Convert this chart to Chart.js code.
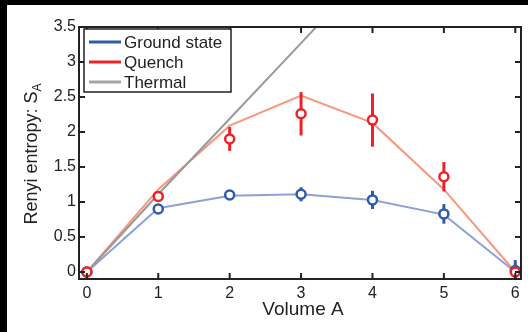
<!DOCTYPE html>
<html>
<head>
<meta charset="utf-8">
<script src="https://cdn.jsdelivr.net/npm/chart.js@4"></script>
<style>
  html, body { margin: 0; padding: 0; background: #000; }
  #wrap { position: absolute; left: 7px; top: 5px; width: 521px; height: 327px; background: #fff; }
</style>
</head>
<body>
<div id="wrap"><canvas id="renyiChart" width="521" height="327"></canvas></div>
<script>
// Renyi entropy vs subsystem volume

const volumes = [0, 1, 2, 3, 4, 5, 6];
const xTickValues = [0, 1, 2, 3, 4, 5, 6];
const yTickValues = [0, 0.5, 1, 1.5, 2, 2.5, 3, 3.5];

const groundMeasured = [0, 0.9, 1.1, 1.11, 1.03, 0.83, 0.02];
const groundError = [0.03, 0.04, 0.06, 0.1, 0.13, 0.14, 0.15];
const groundTheory = [0, 0.91, 1.09, 1.11, 1.03, 0.82, 0];

const quenchMeasured = [0, 1.08, 1.9, 2.26, 2.17, 1.36, 0];
const quenchError = [0.02, 0.03, 0.17, 0.31, 0.38, 0.21, 0.03];
const quenchTheory = [0, 1.18, 2.09, 2.52, 2.13, 1.18, 0];

const thermalVolumes = [0, 1, 2, 3, 4];
const thermalTheory = [0, 1.11, 2.19, 3.27, 4.36];

const legendItems = [
    { label: 'Ground state', color: '#2d5ca8' },
    { label: 'Quench', color: '#ec2228' },
    { label: 'Thermal', color: '#a6a6a6' }
];

const toPoints = (xs, ys) => xs.map((x, i) => ({ x: x, y: ys[i] }));

const FONT = '"Liberation Sans", Arial, Helvetica, sans-serif';

// error bars, frame with inward ticks, legend box and axis titles
const decorPlugin = {
    id: 'decor',
    beforeDatasetDraw(chart, args) {
        const ds = chart.data.datasets[args.index];
        if (!ds.errors) return;
        const ctx = chart.ctx;
        const xs = chart.scales.x, ys = chart.scales.y;
        ctx.save();
        ctx.beginPath();
        ctx.rect(chart.chartArea.left, chart.chartArea.top,
                 chart.chartArea.right - chart.chartArea.left,
                 chart.chartArea.bottom - chart.chartArea.top);
        ctx.clip();
        ctx.strokeStyle = ds.borderColor;
        ctx.lineWidth = 3;
        ds.data.forEach((p, i) => {
            const px = xs.getPixelForValue(p.x);
            ctx.beginPath();
            ctx.moveTo(px, ys.getPixelForValue(p.y - ds.errors[i]));
            ctx.lineTo(px, ys.getPixelForValue(p.y + ds.errors[i]));
            ctx.stroke();
        });
        ctx.restore();
    },
    afterDraw(chart) {
        const ctx = chart.ctx;
        const { left, right, top, bottom } = chart.chartArea;
        const xs = chart.scales.x, ys = chart.scales.y;
        const tick = 6;

        ctx.save();
        ctx.strokeStyle = '#222';
        ctx.lineWidth = 2;
        ctx.strokeRect(left, top, right - left, bottom - top);
        ctx.beginPath();
        xTickValues.forEach(v => {
            const px = xs.getPixelForValue(v);
            ctx.moveTo(px, bottom); ctx.lineTo(px, bottom - tick);
            ctx.moveTo(px, top); ctx.lineTo(px, top + tick);
        });
        yTickValues.forEach(v => {
            const py = ys.getPixelForValue(v);
            ctx.moveTo(left, py); ctx.lineTo(left + tick, py);
            ctx.moveTo(right, py); ctx.lineTo(right - tick, py);
        });
        ctx.stroke();

        // legend
        const lx = left + 5, ly = top + 2, lw = 147, lh = 63;
        ctx.fillStyle = '#fff';
        ctx.fillRect(lx, ly, lw, lh);
        ctx.lineWidth = 1.5;
        ctx.strokeStyle = '#222';
        ctx.strokeRect(lx, ly, lw, lh);
        ctx.font = '17px ' + FONT;
        ctx.textBaseline = 'middle';
        legendItems.forEach((item, i) => {
            const ry = ly + 13 + i * 20;
            ctx.strokeStyle = item.color;
            ctx.lineWidth = 3;
            ctx.beginPath();
            ctx.moveTo(lx + 5, ry);
            ctx.lineTo(lx + 37, ry);
            ctx.stroke();
            ctx.fillStyle = '#222';
            ctx.fillText(item.label, lx + 40, ry + 1);
        });

        // x title
        ctx.fillStyle = '#222';
        ctx.font = '19px ' + FONT;
        ctx.textAlign = 'center';
        ctx.fillText('Volume A', (left + right) / 2 + 3, 305);

        // y title with subscript
        const main = 'Renyi entropy: S';
        ctx.font = '18px ' + FONT;
        const wMain = ctx.measureText(main).width;
        ctx.font = '12px ' + FONT;
        const wSub = ctx.measureText('A').width;
        ctx.translate(24, (top + bottom) / 2 + 1);
        ctx.rotate(-Math.PI / 2);
        ctx.textAlign = 'left';
        ctx.textBaseline = 'alphabetic';
        const start = -(wMain + wSub) / 2;
        ctx.font = '18px ' + FONT;
        ctx.fillText(main, start, 6);
        ctx.font = '12px ' + FONT;
        ctx.fillText('A', start + wMain, 10);
        ctx.restore();
    }
};

new Chart(document.getElementById('renyiChart').getContext('2d'), {
    type: 'scatter',
    data: {
        datasets: [
            {
                label: 'Quench',
                data: toPoints(volumes, quenchMeasured),
                errors: quenchError,
                borderColor: '#ec2228',
                backgroundColor: '#fff',
                pointRadius: 4.5,
                pointBorderWidth: 2.5,
                showLine: false,
                order: 1
            },
            {
                label: 'Ground state',
                data: toPoints(volumes, groundMeasured),
                errors: groundError,
                borderColor: '#2d5ca8',
                backgroundColor: '#fff',
                pointRadius: 4.5,
                pointBorderWidth: 2.5,
                showLine: false,
                order: 2
            },
            {
                label: 'Thermal',
                data: toPoints(thermalVolumes, thermalTheory),
                borderColor: '#999999',
                borderWidth: 2,
                pointRadius: 0,
                showLine: true,
                order: 3
            },
            {
                label: 'Quench theory',
                data: toPoints(volumes, quenchTheory),
                borderColor: '#f7987c',
                borderWidth: 2,
                pointRadius: 0,
                showLine: true,
                order: 4
            },
            {
                label: 'Ground theory',
                data: toPoints(volumes, groundTheory),
                borderColor: '#8fa0d6',
                borderWidth: 2,
                pointRadius: 0,
                showLine: true,
                order: 5
            }
        ]
    },
    options: {
        responsive: false,
        animation: false,
        events: [],
        layout: { padding: { left: 0, right: 4.5, top: 22, bottom: 0 } },
        plugins: {
            legend: { display: false },
            tooltip: { enabled: false }
        },
        scales: {
            x: {
                type: 'linear',
                min: -0.11,
                max: 6.08,
                afterBuildTicks: s => { s.ticks = xTickValues.map(v => ({ value: v })); },
                afterFit: s => { s.height = 53; },
                grid: { display: false, drawTicks: false },
                border: { display: false },
                ticks: {
                    padding: 5,
                    color: '#222',
                    font: { family: FONT, size: 16 },
                    callback: v => String(v)
                }
            },
            y: {
                type: 'linear',
                min: -0.1,
                max: 3.5,
                afterBuildTicks: s => { s.ticks = yTickValues.map(v => ({ value: v })); },
                afterFit: s => { s.width = 72; },
                grid: { display: false, drawTicks: false },
                border: { display: false },
                ticks: {
                    padding: 3,
                    color: '#222',
                    font: { family: FONT, size: 16 },
                    callback: v => String(v)
                }
            }
        }
    },
    plugins: [decorPlugin]
});
</script>
</body>
</html>
